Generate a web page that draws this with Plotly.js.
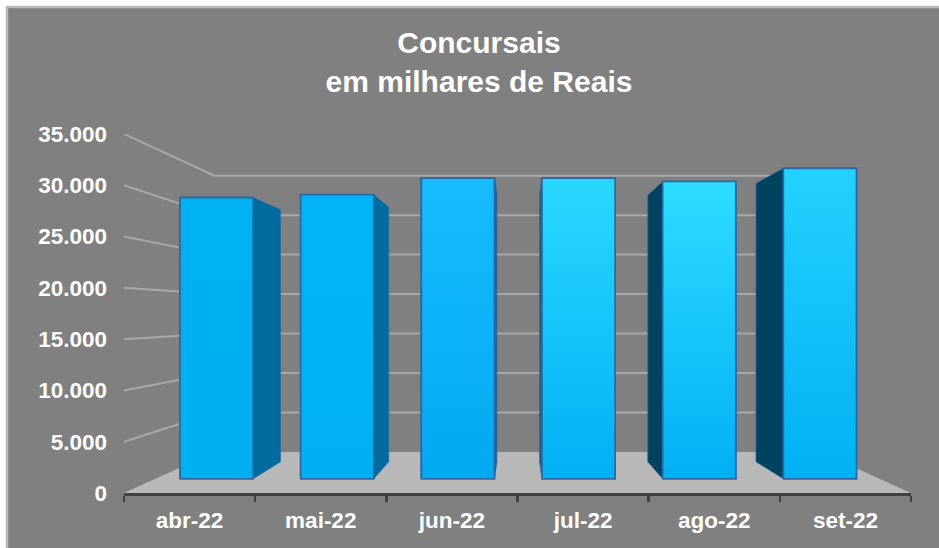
<!DOCTYPE html>
<html>
<head>
<meta charset="utf-8">
<script src="https://cdn.plot.ly/plotly-3.0.1.min.js"></script>
<style>html,body{margin:0;padding:0;background:#fff}#c{width:939px;height:548px}</style>
</head>
<body>
<div id="c"></div>
<script>
const categories = ['abr-22','mai-22','jun-22','jul-22','ago-22','set-22'];
const values = [29800, 30100, 31850, 31850, 31500, 32900];
const topColors = ['#00b2f2','#02b4f6','#18bbff','#2ad8ff','#2edcff','#24d2ff'];
const bottomColors = ['#00b0f0','#00b0f2','#00aaf0','#00b0f4','#00b0f4','#00b0f2'];
const sideColors = ['#006b9c','#006b9c','#1c6498','#1c5c8a','#00425f','#00425f'];
const gridValues = [5000,10000,15000,20000,25000,30000,35000];

// Perspective of the 3-D chart: s is the scale of a depth plane (front plane = 1).
// Coordinates are those of the bar plane (s = sBars), where a point maps to itself.
const sBars = 0.92, sBarBack = 0.825, sWall = 0.77, horizon = 17349, halfW = 0.303;
const project = (x, v, s) => [2.5 + (x - 2.5) * s / sBars, horizon * (1 - s / sBars) + v * s / sBars];

const fmtLine = '#2c68a6';
const sub2 = {xaxis:'x2', yaxis:'y2'}, sub3 = {xaxis:'x3', yaxis:'y3'};
const traces = [];

// base subplot holds visible axes
traces.push({type:'scatter', mode:'none', x:categories, y:values, hoverinfo:'skip', showlegend:false});

// floor
const floorPts = [project(-0.5,0,1), project(-0.5,0,sWall), project(5.5,0,sWall), project(5.5,0,1)];
traces.push(Object.assign({type:'scatter', mode:'lines', fill:'toself', fillcolor:'#b8b8b8',
  line:{width:0, color:'#b8b8b8'}, x:floorPts.map(p=>p[0]), y:floorPts.map(p=>p[1]),
  hoverinfo:'skip', showlegend:false}, sub2));

// walls: grid lines run from the front left edge to the back wall and across it
gridValues.forEach(v => {
  const pts = [project(-0.5,v,1), project(-0.5,v,sWall), project(5.5,v,sWall)];
  traces.push(Object.assign({type:'scatter', mode:'lines', line:{color:'#a8a8a8', width:2},
    x:pts.map(p=>p[0]), y:pts.map(p=>p[1]), hoverinfo:'skip', showlegend:false}, sub2));
});

// front faces (bars)
traces.push(Object.assign({type:'bar', x:categories.map((c,i)=>i), y:values, width:2*halfW, base:0,
  marker:{color:bottomColors, line:{color:fmtLine, width:1.5}}, showlegend:false, hoverinfo:'skip'}, sub3));

// side faces, towards the vanishing point
values.forEach((v,i) => {
  const xe = i <= 2 ? i + halfW : i - halfW;
  const c = project(xe,v,sBarBack), d = project(xe,0,sBarBack);
  traces.push(Object.assign({type:'scatter', mode:'lines', fill:'toself', fillcolor:sideColors[i],
    line:{color:fmtLine, width:0.7}, x:[xe,xe,c[0],d[0],xe], y:[0,v,c[1],d[1],0],
    hoverinfo:'skip', showlegend:false}, sub3));
});

// gradient on the front faces
values.forEach((v,i) => {
  traces.push(Object.assign({type:'scatter', mode:'lines', fill:'toself',
    fillgradient:{type:'vertical', colorscale:[[0,bottomColors[i]],[1,topColors[i]]]},
    line:{color:fmtLine, width:1.7},
    x:[i-halfW,i-halfW,i+halfW,i+halfW,i-halfW], y:[0,v,v,0,0],
    hoverinfo:'skip', showlegend:false}, sub3));
});

const xr = [2.5 - 3 / sBars, 2.5 + 3 / sBars];
const yr = [project(0,0,1)[1], project(0,35000,1)[1]];
const hidden = {visible:false, fixedrange:true};
const font = 'Liberation Sans, Arial, sans-serif';
const barNudge = 0.006;

const layout = {
  width:939, height:548, autosize:false,
  margin:{l:124, r:28, t:134, b:55},
  paper_bgcolor:'#ffffff', plot_bgcolor:'rgba(0,0,0,0)',
  separators:',.', showlegend:false, barmode:'overlay',
  title:{text:'<b>Concursais<br>em milhares de Reais</b>', font:{family:font, size:30, color:'#ffffff'},
    x:479/939, xanchor:'center', y:1-53/548, yanchor:'top'},
  xaxis:{type:'category', categoryorder:'array', categoryarray:categories, range:[-0.5,5.5],
    tickson:'boundaries', ticks:'outside', ticklen:6, tickwidth:2.5, tickcolor:'#404040',
    showline:true, linecolor:'#404040', linewidth:3, showgrid:false, zeroline:false, ticklabelstandoff:5,
    tickfont:{family:font, size:22.5, color:'#ffffff', weight:'bold'}, fixedrange:true},
  yaxis:{range:[0,35000], tickvals:[0].concat(gridValues), tickformat:',d', ticks:'', showgrid:false, zeroline:false,
    showline:false, ticklabelstandoff:16, tickfont:{family:font, size:22.5, color:'#ffffff', weight:'bold'}, fixedrange:true},
  xaxis2:Object.assign({overlaying:'x', range:xr}, hidden),
  yaxis2:Object.assign({overlaying:'y', range:yr}, hidden),
  xaxis3:Object.assign({overlaying:'x', range:[xr[0]-barNudge, xr[1]-barNudge]}, hidden),
  yaxis3:Object.assign({overlaying:'y', range:yr}, hidden),
  shapes:[
    {type:'rect', layer:'below', xref:'paper', yref:'paper', x0:-124/787+6/787, x1:(939-124)/787+0.02, y0:-55/359-0.02, y1:1+(134-6)/359,
     fillcolor:'#808080', line:{color:'#b8b8b8', width:0}},
    {type:'line', layer:'below', xref:'paper', yref:'paper', x0:-124/787+7/787, x1:-124/787+7/787, y0:-55/359-0.02, y1:1+(134-6)/359, line:{color:'#b8b8b8', width:2.5}},
    {type:'line', layer:'below', xref:'paper', yref:'paper', x0:-124/787+6/787, x1:(939-124)/787+0.02, y0:1+(134-7)/359, y1:1+(134-7)/359, line:{color:'#b8b8b8', width:2.5}}
  ]
};
Plotly.newPlot('c', traces, layout, {displayModeBar:false, staticPlot:true});
</script>
</body>
</html>
